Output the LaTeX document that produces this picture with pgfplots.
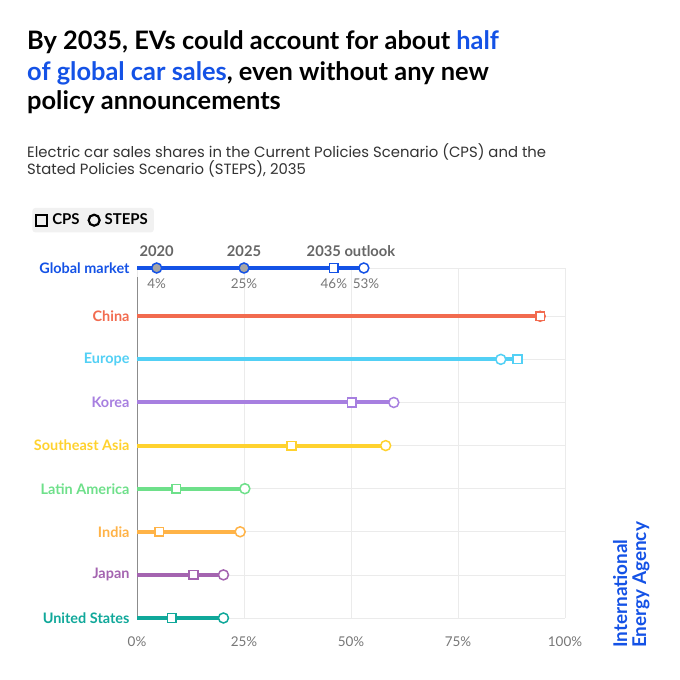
\documentclass[border=0pt]{standalone}
\usepackage{fontspec}
\setmainfont{Lato}
\newfontfamily\pop{Poppins}
\usepackage{pgfplots}
\pgfplotsset{compat=1.18}
\definecolor{ieablue}{HTML}{1452E6}
\definecolor{cChina}{HTML}{F26B4F}
\definecolor{cEurope}{HTML}{52D0F5}
\definecolor{cKorea}{HTML}{A77FE0}
\definecolor{cSEA}{HTML}{FFD22E}
\definecolor{cLatam}{HTML}{6EE08A}
\definecolor{cIndia}{HTML}{FFB347}
\definecolor{cJapan}{HTML}{A464B0}
\definecolor{cUS}{HTML}{10A89A}
\definecolor{gridgray}{HTML}{EBEBEB}
\definecolor{labgray}{HTML}{666666}
\definecolor{tickgray}{HTML}{777777}
\definecolor{leggray}{HTML}{F1F1F1}
\begin{document}
\begin{tikzpicture}
\fill[white] (0bp,0bp) rectangle (680bp,680bp);
% title
\begin{scope}[every node/.style={anchor=base west, inner sep=0, font=\fontsize{25.5}{29.5}\selectfont\bfseries}]
\node at (27bp,630bp) {By 2035, EVs could account for about \textcolor{ieablue}{half}};
\node at (27bp,599.5bp) {\textcolor{ieablue}{of global car sales}, even without any new};
\node at (27bp,570bp) {policy announcements};
\end{scope}
\begin{scope}[every node/.style={anchor=base west, inner sep=0, text=black!80, font=\pop\fontsize{14.9}{18.5}\selectfont}]
\node at (27bp,522.7bp) {Electric car sales shares in the Current Policies Scenario (CPS) and the};
\node at (27bp,505bp) {Stated Policies Scenario (STEPS), 2035};
\end{scope}
% logo
\node[rotate=90, anchor=base west, inner sep=0, text=ieablue, font=\fontsize{19}{20}\selectfont\bfseries] at (627bp,32bp) {International};
\node[rotate=90, anchor=base west, inner sep=0, text=ieablue, font=\fontsize{19}{20}\selectfont\bfseries] at (646bp,32bp) {Energy Agency};
\begin{axis}[
  at={(137bp,62bp)}, anchor=south west,
  scale only axis, width=428bp, height=350bp,
  xmin=0, xmax=100, ymin=0, ymax=8.12,
  clip=false,
  axis line style={draw=none},
  major tick style={draw=none},
  xmajorgrids, ymajorgrids,
  grid style={color=gridgray, line width=0.7bp},
  xtick={0,25,50,75,100},
  xticklabels={0\%,25\%,50\%,75\%,100\%},
  xticklabel style={text=tickgray, font=\fontsize{13.5}{15}\selectfont, anchor=center, yshift=-24bp},
  ytick={0,1,2,3,4,5,6,7,8.12},
  yticklabels={\textcolor{cUS}{United States},\textcolor{cJapan}{Japan},\textcolor{cIndia}{India},\textcolor{cLatam}{Latin America},\textcolor{cSEA}{Southeast Asia},\textcolor{cKorea}{Korea},\textcolor{cEurope}{Europe},\textcolor{cChina}{China},\textcolor{ieablue}{Global market}},
  yticklabel style={font=\fontsize{14.5}{16}\selectfont\bfseries, anchor=east, xshift=-4bp},
  legend style={at={(-0.245,1.172)}, anchor=north west, fill=leggray, draw=none, rounded corners=3bp,
     font=\fontsize{15}{16}\selectfont\bfseries, inner xsep=4bp, inner ysep=4bp,
     /tikz/every odd column/.append style={column sep=3bp},
     /tikz/every even column/.append style={column sep=7bp}},
  legend columns=2,
  legend cell align=left,
]
\addlegendimage{only marks, mark=square, mark size=5.5bp, black, line width=2.2bp}
\addlegendentry{CPS}
\addlegendimage{only marks, mark=o, mark size=5.5bp, black, line width=2.2bp}
\addlegendentry{STEPS}
\draw[black!45, line width=1bp] (axis cs:0,0) -- (axis cs:0,7.9);
% lines
\addplot[cUS, line width=4bp] coordinates {(0,0) (20.2,0)};
\addplot[cJapan, line width=4bp] coordinates {(0,1) (20.2,1)};
\addplot[cIndia, line width=4bp] coordinates {(0,2) (24.1,2)};
\addplot[cLatam, line width=4bp] coordinates {(0,3) (25.2,3)};
\addplot[cSEA, line width=4bp] coordinates {(0,4) (58.1,4)};
\addplot[cKorea, line width=4bp] coordinates {(0,5) (60,5)};
\addplot[cEurope, line width=4bp] coordinates {(0,6) (88.9,6)};
\addplot[cChina, line width=4bp] coordinates {(0,7) (94.2,7)};
\addplot[ieablue, line width=4bp] coordinates {(0,8.12) (53,8.12)};
% markers
\pgfplotsset{
  cpsm/.style={only marks, mark=square*, mark size=4.3bp, mark options={fill=white, draw=#1, line width=1.5bp}},
  stepsm/.style={only marks, mark=*, mark size=5bp, mark options={fill=white, draw=#1, line width=1.5bp}}}
\addplot[stepsm=cUS] coordinates {(20.2,0)};
\addplot[cpsm=cUS] coordinates {(8.1,0)};
\addplot[stepsm=cJapan] coordinates {(20.2,1)};
\addplot[cpsm=cJapan] coordinates {(13.2,1)};
\addplot[stepsm=cIndia] coordinates {(24.1,2)};
\addplot[cpsm=cIndia] coordinates {(5.2,2)};
\addplot[stepsm=cLatam] coordinates {(25.2,3)};
\addplot[cpsm=cLatam] coordinates {(9.2,3)};
\addplot[stepsm=cSEA] coordinates {(58.1,4)};
\addplot[cpsm=cSEA] coordinates {(36.1,4)};
\addplot[stepsm=cKorea] coordinates {(60,5)};
\addplot[cpsm=cKorea] coordinates {(50.2,5)};
\addplot[stepsm=cEurope] coordinates {(85,6)};
\addplot[cpsm=cEurope] coordinates {(88.9,6)};
\addplot[stepsm=cChina] coordinates {(94.2,7)};
\addplot[cpsm=cChina] coordinates {(94.2,7)};
\addplot[stepsm=ieablue] coordinates {(53,8.12)};
\addplot[cpsm=ieablue] coordinates {(46,8.12)};
\addplot[only marks, mark=*, mark size=5bp, mark options={fill=black!35, draw=ieablue, line width=1.5bp}] coordinates {(4.6,8.12) (25,8.12)};
% global annotations
\begin{scope}[every node/.style={inner sep=0}]
\node[anchor=base, text=labgray, font=\fontsize{14.8}{15}\selectfont\bfseries] at ([yshift=11bp]axis cs:4.6,8.12) {2020};
\node[anchor=base, text=labgray, font=\fontsize{14.8}{15}\selectfont\bfseries] at ([yshift=11bp]axis cs:25,8.12) {2025};
\node[anchor=base, text=labgray, font=\fontsize{14.8}{15}\selectfont\bfseries] at ([yshift=11bp]axis cs:50,8.12) {2035 outlook};
\node[anchor=base, text=tickgray, font=\fontsize{13.5}{15}\selectfont] at ([yshift=-21bp]axis cs:4.6,8.12) {4\%};
\node[anchor=base, text=tickgray, font=\fontsize{13.5}{15}\selectfont] at ([yshift=-21bp]axis cs:25,8.12) {25\%};
\node[anchor=base, text=tickgray, font=\fontsize{13.5}{15}\selectfont] at ([yshift=-21bp]axis cs:46,8.12) {46\%};
\node[anchor=base, text=tickgray, font=\fontsize{13.5}{15}\selectfont] at ([yshift=-21bp]axis cs:53.5,8.12) {53\%};
\end{scope}
\end{axis}
\end{tikzpicture}
\end{document}
